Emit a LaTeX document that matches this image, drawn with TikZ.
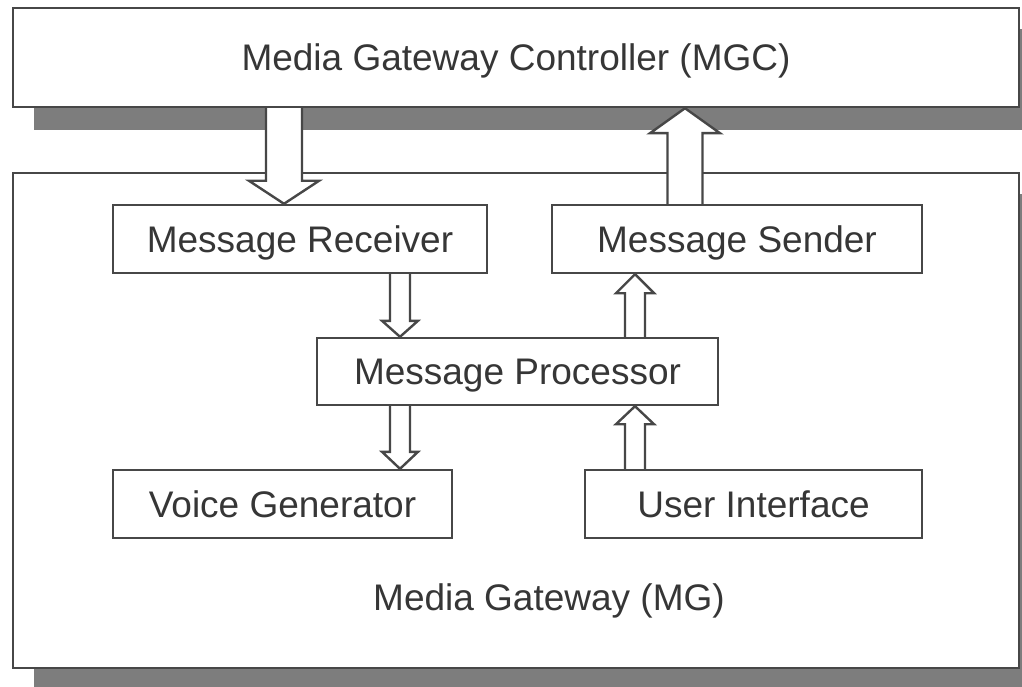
\documentclass[tikz,border=0pt]{standalone}
\usepackage{fontspec}
\setmainfont{Liberation Sans}
\usetikzlibrary{calc}
\definecolor{edge}{HTML}{474747}
\definecolor{shade}{HTML}{7D7D7D}
\definecolor{ink}{HTML}{363636}
\pgfdeclarelayer{paper}
\pgfdeclarelayer{back}
\pgfdeclarelayer{mglayer}
\pgfdeclarelayer{arrows}
\pgfsetlayers{paper,back,mglayer,arrows,main}
\tikzset{
  box/.style={draw=edge, line width=2.4pt, fill=white, rectangle, inner sep=0pt,
    font=\fontsize{37}{44}\selectfont, text=ink, text height=26.5pt, text depth=0pt},
  shadowbox/.style={fill=shade},
  fatarrow/.style={draw=edge, fill=white, line width=2.4pt, line join=miter},
  lbl/.style={font=\fontsize{37}{44}\selectfont, text=ink, text height=26.5pt, text depth=0pt, inner sep=0pt}
}
\newcommand\fatarrow[5]{%
  \draw[fatarrow] let \p1=(#1), \p2=(#2), \n1={ifthenelse(\y2>\y1,-1,1)} in
    (\x2-#3pt,\y1) -- (\x2-#3pt,\y2+\n1*#5pt) -- (\x2-#4pt,\y2+\n1*#5pt) -- (\x2,\y2)
    -- (\x2+#4pt,\y2+\n1*#5pt) -- (\x2+#3pt,\y2+\n1*#5pt) -- (\x2+#3pt,\y1);}
\begin{document}
\begin{tikzpicture}[x=1pt,y=-1pt]
\clip (0,0) rectangle (1022,687);
\begin{pgfonlayer}{paper}
\fill[white] (0,0) rectangle (1022,687);
\end{pgfonlayer}
% main boxes
\node[box, minimum width=1006pt, minimum height=99pt] (mgc) at (516,57.5) {Media Gateway Controller (MGC)};
\begin{pgfonlayer}{mglayer}
\node[box, minimum width=1006pt, minimum height=495pt] (mg) at (516,420.5) {};
\end{pgfonlayer}
\begin{pgfonlayer}{back}
\fill[shadowbox] ($(mgc.north west)+(22,22)$) rectangle ($(mgc.south east)+(22,22)$);
\fill[shadowbox] ($(mg.north west)+(22,22)$) rectangle ($(mg.south east)+(22,22)$);
\end{pgfonlayer}
\node[lbl] (mglabel) at (549,597) {Media Gateway (MG)};
% inner boxes
\node[box, minimum width=374pt, minimum height=68pt] (recv) at (300,239) {Message Receiver};
\node[box, minimum width=370pt, minimum height=68pt] (send) at (737,239) {Message Sender};
\node[box, minimum width=401pt, minimum height=67pt] (proc) at (517.5,371.5) {Message Processor};
\node[box, minimum width=339pt, minimum height=68pt] (voice) at (282.5,504) {Voice Generator};
\node[box, minimum width=337pt, minimum height=68pt] (ui) at (753.5,504) {User Interface};
% arrow columns
\coordinate (c1) at (284,0);
\coordinate (c2) at (685,0);
\coordinate (c3) at (400,0);
\coordinate (c4) at (635,0);
\begin{pgfonlayer}{arrows}
\fatarrow{mgc.south -| c1}{recv.north -| c1}{18}{35}{23}
\fatarrow{send.north -| c2}{mgc.south -| c2}{17.5}{35}{25}
\fatarrow{recv.south -| c3}{proc.north -| c3}{10}{18}{16}
\fatarrow{proc.south -| c3}{voice.north -| c3}{10}{18}{17}
\fatarrow{proc.north -| c4}{send.south -| c4}{10}{19}{19}
\fatarrow{ui.north -| c4}{proc.south -| c4}{10}{19}{18}
\end{pgfonlayer}
\end{tikzpicture}
\end{document}
